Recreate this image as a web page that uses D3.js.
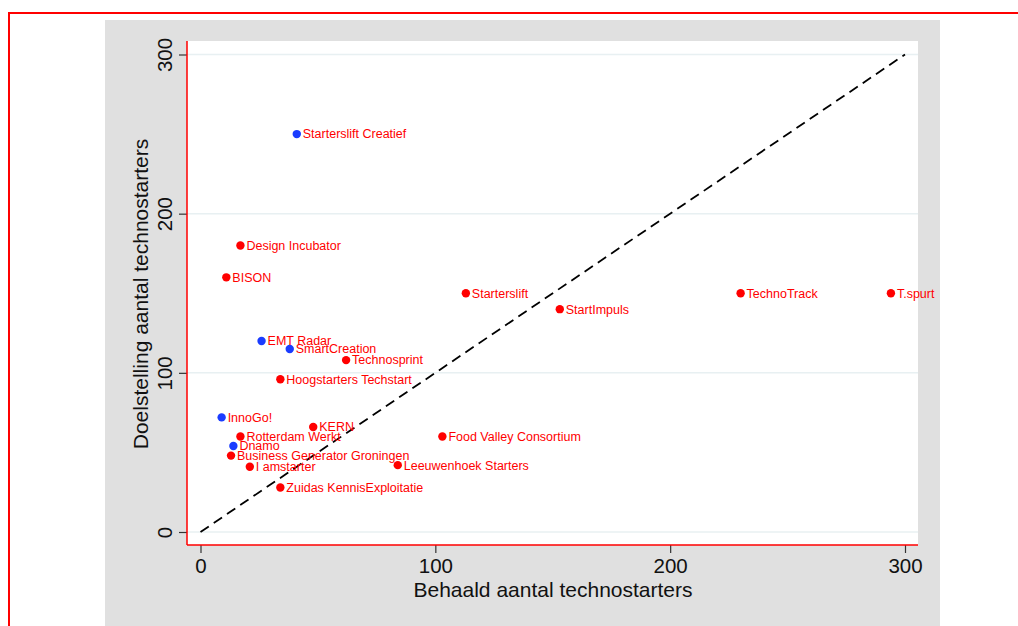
<!DOCTYPE html>
<html>
<head>
<meta charset="utf-8">
<script src="https://cdn.jsdelivr.net/npm/d3@7"></script>
<style>
html,body{margin:0;padding:0;background:#fff;}
svg{display:block;font-family:"Liberation Sans",Arial,Helvetica,sans-serif;}
</style>
</head>
<body>
<svg id="chart" width="1018" height="626"></svg>
<script>
const names = ["Starterslift Creatief","Design Incubator","BISON","Starterslift","StartImpuls","TechnoTrack","T.spurt","EMT Radar","SmartCreation","Technosprint","Hoogstarters Techstart","InnoGo!","KERN","Rotterdam Werkt","Food Valley Consortium","Dnamo","Business Generator Groningen","I amstarter","Leeuwenhoek Starters","Zuidas KennisExploitatie"];
const achieved = [41,17,11,113,153,230,294,26,38,62,34,9,48,17,103,14,13,21,84,34];
const target = [250,180,160,150,140,150,150,120,115,108,96,72,66,60,60,54,48,41,42,28];
const group = ["b","r","r","r","r","r","r","b","b","r","r","b","r","r","r","b","r","r","r","r"];
const xTicks = [0,100,200,300];
const yTicks = [0,100,200,300];
const xTitle = "Behaald aantal technostarters";
const yTitle = "Doelstelling aantal technostarters";
const colorMap = {r:"#ff0000", b:"#1a3cff"};

const svg = d3.select("#chart");
// outer red frame
svg.append("rect").attr("x",9).attr("y",13).attr("width",1100).attr("height",700)
  .attr("fill","none").attr("stroke","#ff0000").attr("stroke-width",2);
// gray panel
svg.append("rect").attr("x",105).attr("y",20).attr("width",835).attr("height",620).attr("fill","#e0e0e0");
// plot area
const pl=187, pr=918, pt=41, pb=545;
svg.append("rect").attr("x",pl).attr("y",pt).attr("width",pr-pl).attr("height",pb-pt).attr("fill","#fff");

const x = d3.scaleLinear().domain([0,300]).range([200.5,905]);
const y = d3.scaleLinear().domain([0,300]).range([532,54.5]);

// gridlines
svg.append("g").selectAll("line").data(yTicks).join("line")
  .attr("x1",pl).attr("x2",pr).attr("y1",d=>y(d)).attr("y2",d=>y(d))
  .attr("stroke","#e8f0f2").attr("stroke-width",1.5);

// axes
const xAxis = svg.append("g").attr("transform",`translate(0,${pb})`)
  .call(d3.axisBottom(x).tickValues(xTicks).tickSize(8).tickPadding(5));
xAxis.select(".domain").remove();
xAxis.selectAll(".tick line").attr("stroke","#333").attr("stroke-width",1.2);
xAxis.selectAll(".tick text").attr("font-size",20.5).attr("fill","#111").attr("font-family","Liberation Sans, Arial, sans-serif");

const yAxis = svg.append("g").attr("transform",`translate(${pl},0)`)
  .call(d3.axisLeft(y).tickValues(yTicks).tickSize(8).tickPadding(6));
yAxis.select(".domain").remove();
yAxis.selectAll(".tick line").attr("stroke","#333").attr("stroke-width",1.2);
yAxis.selectAll(".tick text").attr("font-size",20.5).attr("fill","#111")
  .attr("font-family","Liberation Sans, Arial, sans-serif")
  .attr("x",0).attr("dy",0)
  .attr("text-anchor","middle")
  .attr("transform","translate(-15,0) rotate(-90)");

// red axis lines
svg.append("line").attr("x1",pl).attr("x2",pl).attr("y1",pt).attr("y2",pb).attr("stroke","#ff0000").attr("stroke-width",1.5);
svg.append("line").attr("x1",pl).attr("x2",pr).attr("y1",pb).attr("y2",pb).attr("stroke","#ff0000").attr("stroke-width",1.5);

// diagonal
svg.append("line").attr("x1",x(0)).attr("y1",y(0)).attr("x2",x(300)).attr("y2",y(300))
  .attr("stroke","#000").attr("stroke-width",1.8).attr("stroke-dasharray","10,6");

// points
const data = names.map((n,i)=>({n, a:achieved[i], t:target[i], g:group[i]}));
svg.append("g").selectAll("circle").data(data).join("circle")
  .attr("cx",d=>x(d.a)).attr("cy",d=>y(d.t)).attr("r",4.2).attr("fill",d=>colorMap[d.g]);
svg.append("g").selectAll("text").data(data).join("text")
  .attr("x",d=>x(d.a)+6).attr("y",d=>y(d.t)).attr("dy","0.35em")
  .attr("font-size",12.5).attr("fill","#ff0000").text(d=>d.n);

// titles
svg.append("text").attr("x",553).attr("y",597).attr("text-anchor","middle")
  .attr("font-size",21).attr("fill","#111").text(xTitle);
svg.append("text").attr("transform","translate(148,294) rotate(-90)").attr("text-anchor","middle")
  .attr("font-size",21).attr("fill","#111").text(yTitle);
</script>
</body>
</html>
